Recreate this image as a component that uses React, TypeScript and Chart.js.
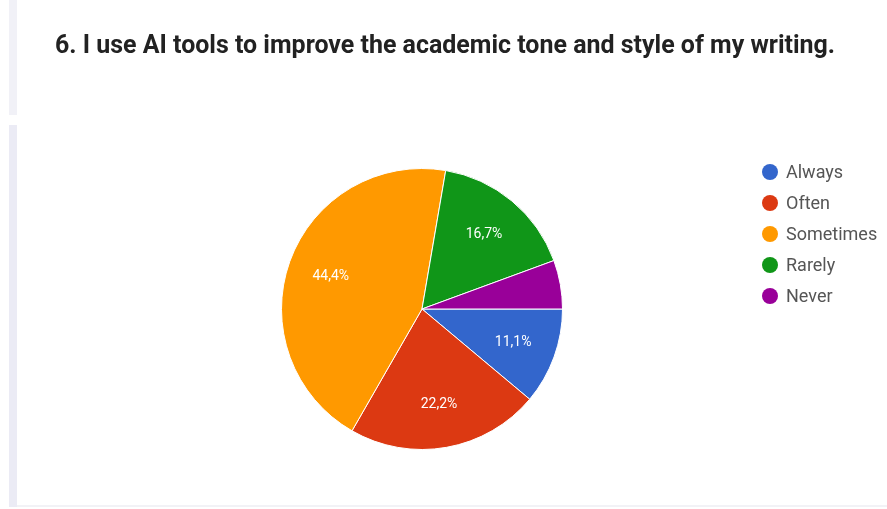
import React, { useEffect, useRef } from "react";
import { Chart, registerables } from "chart.js";

Chart.register(...registerables);

const title = "6. I use AI tools to improve the academic tone and style of my writing.";
const categories = ["Always", "Often", "Sometimes", "Rarely", "Never"];
const values = [11.1, 22.2, 44.4, 16.7, 5.6];
const valueLabels = ["11,1%", "22,2%", "44,4%", "16,7%", ""];
const colors = ["#3366cc", "#dc3912", "#ff9900", "#109618", "#990099"];

const labelPlugin = {
  id: "sliceLabels",
  afterDatasetsDraw(chart: any) {
    const ctx = chart.ctx;
    const meta = chart.getDatasetMeta(0);
    ctx.save();
    ctx.fillStyle = "#ffffff";
    ctx.font = "14px Roboto";
    ctx.textAlign = "center";
    ctx.textBaseline = "middle";
    meta.data.forEach((arc: any, i: number) => {
      const text = valueLabels[i];
      if (!text) return;
      const p = arc.getProps(["x", "y", "startAngle", "endAngle", "outerRadius"], true);
      const mid = (p.startAngle + p.endAngle) / 2;
      const r = p.outerRadius * 0.69;
      ctx.fillText(text, p.x + Math.cos(mid) * r, p.y + Math.sin(mid) * r);
    });
    ctx.restore();
  },
};

export default function App() {
  const ref = useRef<HTMLCanvasElement>(null);
  useEffect(() => {
    if (!ref.current) return;
    const chart = new Chart(ref.current, {
      type: "pie",
      data: {
        labels: categories,
        datasets: [
          {
            data: values,
            backgroundColor: colors,
            borderColor: "#ffffff",
            borderWidth: 1,
          },
        ],
      },
      options: {
        animation: false,
        responsive: false,
        rotation: 90,
        layout: { padding: { left: 281, right: 324, top: 168, bottom: 59 } },
        plugins: { legend: { display: false }, tooltip: { enabled: false } },
      },
      plugins: [labelPlugin],
    });
    return () => chart.destroy();
  }, []);

  return (
    <div style={{ position: "fixed", left: 0, top: 0, width: 887, height: 509, background: "#ffffff", overflow: "hidden", fontFamily: "Roboto" }}>
      <div style={{ position: "absolute", left: 9, top: 0, width: 8, height: 115, background: "#f1f1f7" }} />
      <div style={{ position: "absolute", left: 9, top: 125, width: 8, height: 382, background: "#ebebf5" }} />
      <div style={{ position: "absolute", left: 17, top: 505, width: 870, height: 2, background: "#f2f2f6" }} />
      <canvas ref={ref} width={887} height={509} style={{ position: "absolute", left: 0, top: 0 }} />
      <div style={{ position: "absolute", left: 55, top: 29, fontSize: 26, fontWeight: 700, color: "#222", whiteSpace: "nowrap", transform: "scaleX(0.96)", transformOrigin: "left top" }}>{title}</div>
      <div style={{ position: "absolute", left: 762, top: 156 }}>
        {categories.map((c, i) => (
          <div key={c} style={{ display: "flex", alignItems: "center", height: 31 }}>
            <span style={{ width: 16, height: 16, borderRadius: "50%", background: colors[i], display: "inline-block", marginRight: 8 }} />
            <span style={{ fontSize: 18, color: "#555" }}>{c}</span>
          </div>
        ))}
      </div>
    </div>
  );
}
